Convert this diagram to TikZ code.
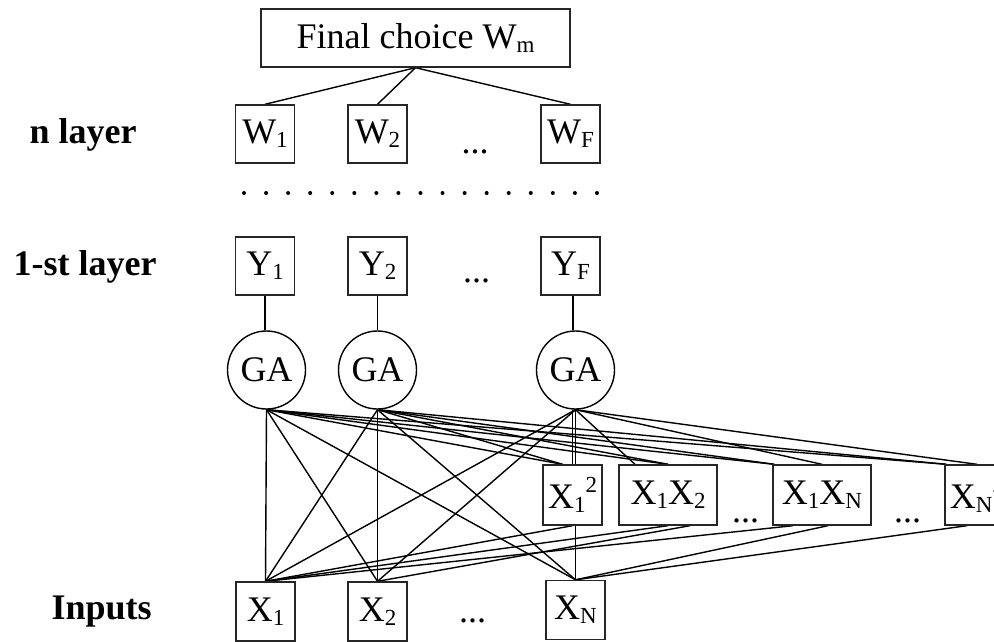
\documentclass[tikz,border=0pt]{standalone}
\usepackage{fontspec}
\setmainfont{Liberation Serif}
\usetikzlibrary{calc}
\newcommand{\lsub}[1]{\raisebox{-0.12em}{\fontsize{23}{23}\selectfont #1}}
\newcommand{\lsup}[1]{\raisebox{0.42em}{\fontsize{23}{23}\selectfont #1}}
\pgfdeclarelayer{bg}
\pgfsetlayers{bg,main}
\begin{document}
\begin{tikzpicture}[x=1pt,y=-1pt,
  every node/.style={font=\fontsize{36}{40}\selectfont},
  sq/.style={draw=black!85, fill=white, line width=1.4pt, minimum width=59pt, minimum height=58pt, inner sep=1pt},
  ga/.style={circle, draw, fill=white, line width=1.4pt, minimum size=78pt, inner sep=0pt},
  lbl/.style={font=\bfseries\fontsize{36}{40}\selectfont, anchor=base west},
  ell/.style={anchor=base, inner sep=0pt},
  wire/.style={line width=1.4pt}]
\useasboundingbox (0,0) rectangle (994,642);

% labels
\node[lbl] (ln) at (26,143) {n layer};
\node[lbl] (l1) at (10,275) {1-st layer};
\node[lbl] (lin) at (48,619) {Inputs};

% top
\node[sq, minimum width=309pt] (fin) at (415.5,38) {Final choice W\lsub{m}};
\node[sq] (w1) at (265,134) {W\lsub{1}};
\node[sq] (w2) at (377.5,134) {W\lsub{2}};
\node[sq] (wf) at (570.5,134) {W\lsub{F}};
\node[ell] (dw) at (475,153) {...};

% dotted row
\foreach \i in {0,...,16} \fill (244+22.06*\i,193) circle (2pt);

% first layer
\node[sq] (y1) at (265,266) {Y\lsub{1}};
\node[sq] (y2) at (377.5,266) {Y\lsub{2}};
\node[sq] (yf) at (570.5,266) {Y\lsub{F}};
\node[ell] (dy) at (476.5,282) {...};

% GA
\node[ga] (ga1) at (266.5,370) {GA};
\node[ga] (ga2) at (377.5,370) {GA};
\node[ga] (ga3) at (575.5,370) {GA};

% quadratic terms
\node[sq, minimum height=60pt] (q1) at (572.5,495) {X\lsub{1}\lsup{2}};
\node[sq, minimum height=60pt, minimum width=98pt] (q2) at (668,495) {X\lsub{1}X\lsub{2}};
\node[sq, minimum height=60pt, minimum width=98pt] (q3) at (822,495) {X\lsub{1}X\lsub{N}};
\node[sq, minimum height=60pt, minimum width=64pt] (q4) at (977,495) {X\lsub{N}\lsup{2}};
\node[ell] (dq1) at (745.5,522) {...};
\node[ell] (dq2) at (907.5,522) {...};

% inputs
\node[sq, minimum height=59pt] (x1) at (265.5,611.5) {X\lsub{1}};
\node[sq, minimum height=59pt] (x2) at (377.5,611.5) {X\lsub{2}};
\node[sq, minimum height=59pt] (xn) at (575.5,610) {X\lsub{N}};
\node[ell] (dx) at (472.5,622) {...};

\begin{pgfonlayer}{bg}
\draw[wire] (fin.south) -- (w1.north);
\draw[wire] (fin.south) -- (w2.north);
\draw[wire] (fin.south) -- (wf.north);
\draw[wire] (y1.south) -- (y1.south |- ga1.north);
\draw[wire] (y2.south) -- (y2.south |- ga2.north);
\draw[wire] ($(yf.south)+(2.5,0)$) -- ($(yf.south |- ga3.north)+(2.5,0)$);
% GA1
\draw[wire] (ga1.south) -- (x1.north);
\draw[wire] (ga1.south) -- (x2.north);
\draw[wire] (ga1.south) -- (xn.north);
\draw[wire] (ga1.south) -- ($(q1.north)+(-10,0)$);
\draw[wire] (ga1.south) -- (q2.north);
\draw[wire] (ga1.south) -- ($(q3.north west)+(2,0)$);
\draw[wire] (ga1.south) -- ($(q4.north west)+(2,0)$);
% GA2
\draw[wire] (ga2.south) -- (x1.north);
\draw[wire] (ga2.south) -- (x2.north);
\draw[wire] (ga2.south) -- (xn.north);
\draw[wire] (ga2.south) -- ($(q1.north)+(-10,0)$);
\draw[wire] (ga2.south) -- (q2.north);
\draw[wire] (ga2.south) -- ($(q3.north west)+(2,0)$);
\draw[wire] (ga2.south) -- ($(q4.north west)+(2,0)$);
% GA3
\draw[wire] (ga3.south) -- (x1.north);
\draw[wire] (ga3.south) -- (x2.north);
\draw[wire] (ga3.south) -- (xn.north);
\draw[wire] ($(ga3.south)+(-3,0)$) -- (q1.north);
\draw[wire] (ga3.south) -- ($(q2.north)+(-33,0)$);
\draw[wire] (ga3.south) -- (q3.north);
\draw[wire] (ga3.south) -- (q4.north);
% products to inputs
\draw[wire] (q1.south) -- (x1.north);
\draw[wire] (q2.south) -- (x1.north);
\draw[wire] ($(q2.south)+(22,0)$) -- (x2.north);
\draw[wire] ($(q3.south)+(-29,0)$) -- (x1.north);
\draw[wire] ($(q3.south)+(6,0)$) -- (xn.north);
\draw[wire] ($(q4.south)+(-10,0)$) -- (xn.north);
\end{pgfonlayer}
\end{tikzpicture}
\end{document}
